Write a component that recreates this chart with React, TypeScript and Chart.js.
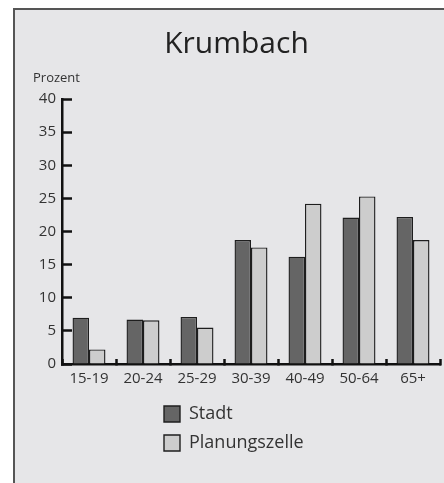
import React, { useEffect, useRef } from "react";
import { Chart, registerables } from "chart.js";

Chart.register(...registerables);

const categories = ["15-19", "20-24", "25-29", "30-39", "40-49", "50-64", "65+"];
const stadtValues = [7.0, 6.7, 7.1, 18.7, 16.2, 22.1, 22.2];
const planungValues = [2.2, 6.6, 5.5, 17.6, 24.2, 25.3, 18.7];
const seriesNames = ["Stadt", "Planungszelle"];
const titleText = "Krumbach";
const unitText = "Prozent";

const FONT = "'Open Sans', sans-serif";

const legendMover = {
  id: "legendMover",
  afterLayout(chart: any) {
    const lg = chart.legend;
    if (!lg) return;
    const w = lg.width;
    const h = 80;
    lg.left = 138;
    lg.right = 138 + w;
    lg.top = 384;
    lg.bottom = 384 + h;
    lg.height = h;
  },
};

export default function App() {
  const ref = useRef<HTMLCanvasElement | null>(null);
  useEffect(() => {
    if (!ref.current) return;
    const chart = new Chart(ref.current, {
      type: "bar",
      data: {
        labels: categories,
        datasets: [
          {
            label: seriesNames[0],
            data: stadtValues,
            backgroundColor: "#656565",
            borderColor: "#1e1e1e",
            borderWidth: 1.4,
          },
          {
            label: seriesNames[1],
            data: planungValues,
            backgroundColor: "#cdcdcd",
            borderColor: "#1e1e1e",
            borderWidth: 1.4,
          },
        ],
      },
      options: {
        responsive: false,
        animation: false,
        events: [],
        layout: { padding: { left: 18, right: 4, top: 0, bottom: 89 } },
        datasets: {
          bar: { categoryPercentage: 0.61, barPercentage: 1 },
        } as any,
        plugins: {
          title: {
            display: true,
            text: titleText,
            color: "#222",
            font: { family: FONT, size: 30, weight: "normal" },
            padding: { top: 16.5, bottom: 0 },
          },
          subtitle: {
            display: true,
            text: unitText,
            align: "start",
            color: "#333",
            font: { family: FONT, size: 13, weight: "normal" },
            padding: { top: 8.2, bottom: 12.7 },
          },
          legend: {
            position: "chartArea" as any,
            align: "start",
            labels: {
              boxWidth: 16,
              boxHeight: 16,
              padding: 11,
              color: "#333",
              font: { family: FONT, size: 18 },
            },
          },
          tooltip: { enabled: false },
        },
        scales: {
          x: {
            afterFit: (s: any) => {
              s.height = 30;
            },
            grid: {
              offset: true,
              drawOnChartArea: false,
              drawTicks: true,
              tickLength: -5,
              tickWidth: 2.5,
              tickColor: "#111",
            },
            border: { display: true, color: "#111", width: 2.5 },
            ticks: {
              color: "#333",
              padding: 10.7,
              font: { family: FONT, size: 15 },
              maxRotation: 0,
            },
          },
          y: {
            min: 0,
            max: 40,
            afterFit: (s: any) => {
              s.width = 29;
            },
            grid: {
              drawOnChartArea: false,
              drawTicks: true,
              tickLength: -10,
              tickWidth: 2.5,
              tickColor: "#111",
            },
            border: { display: true, color: "#111", width: 2.5 },
            ticks: {
              stepSize: 5,
              color: "#333",
              padding: 16,
              font: { family: FONT, size: 15 },
            },
          },
        },
      },
      plugins: [legendMover],
    });
    return () => chart.destroy();
  }, []);

  return (
    <div
      style={{
        position: "fixed",
        left: 13,
        top: 8,
        right: -200,
        bottom: -200,
        background: "#e6e6e8",
        boxShadow: "inset 2px 2px 0 #555",
        overflow: "hidden",
      }}
    >
      <canvas
        ref={ref}
        width={429}
        height={473}
        style={{ display: "block", position: "absolute", left: 2, top: 2 }}
      />
    </div>
  );
}
